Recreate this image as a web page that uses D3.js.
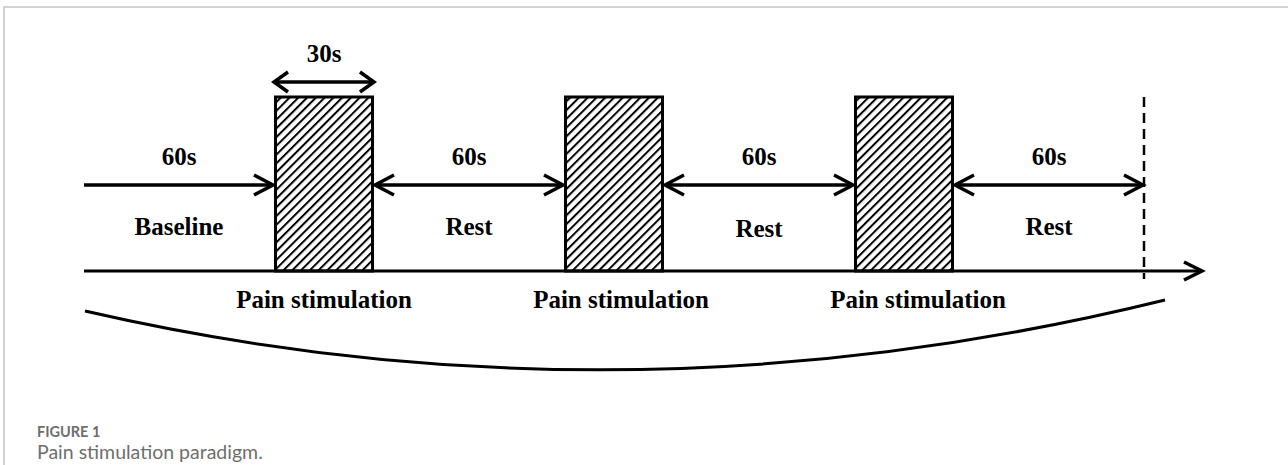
<!DOCTYPE html>
<html>
<head>
<meta charset="utf-8">
<script src="https://cdn.jsdelivr.net/npm/d3@7"></script>
<style>
  html, body { margin: 0; padding: 0; background: #fff; }
  svg { display: block; }
</style>
</head>
<body>
<div id="chart"></div>
<script>
// phases of the paradigm, in order
var phases = ["Baseline", "Pain stimulation", "Rest", "Pain stimulation", "Rest", "Pain stimulation", "Rest"];
var phaseTypes = ["rest", "stim", "rest", "stim", "rest", "stim", "rest"];
var durations = [60, 30, 60, 30, 60, 30, 60];
var durationLabels = ["60s", "30s", "60s", "30s", "60s", "30s", "60s"];
var captionTitle = "FIGURE 1";
var captionText = "Pain stimulation paradigm.";

var width = 1288, height = 465;
var x0 = 84;                      // start of time axis
var restPx = 190, stimPx = 100;   // drawn width of each kind of block
var axisY = 271, boxTop = 97, arrowY = 185;

var svg = d3.select("#chart").append("svg")
    .attr("width", width)
    .attr("height", height);

// hatch pattern for stimulation blocks
svg.append("defs").append("pattern")
    .attr("id", "hatch")
    .attr("patternUnits", "userSpaceOnUse")
    .attr("width", 6.2)
    .attr("height", 6.2)
    .attr("patternTransform", "rotate(45)")
    .append("line")
    .attr("x1", 1).attr("y1", 0)
    .attr("x2", 1).attr("y2", 6.2)
    .attr("stroke", "#000")
    .attr("stroke-width", 2);

// frame (top + left)
svg.append("path")
    .attr("d", "M4," + height + "V7H" + width)
    .attr("fill", "none")
    .attr("stroke", "#c4c4c4")
    .attr("stroke-width", 1.5);

// piecewise time scale: cumulative seconds -> pixels
var tCum = [0], pxCum = [x0];
durations.forEach(function (d, i) {
    tCum.push(tCum[i] + d);
    pxCum.push(pxCum[i] + (phaseTypes[i] === "stim" ? stimPx : restPx));
});
var x = d3.scaleLinear().domain(tCum).range(pxCum);

var segs = phases.map(function (p, i) {
    return { name: p, type: phaseTypes[i], label: durationLabels[i], t0: tCum[i], t1: tCum[i + 1], idx: i };
});
var stims = segs.filter(function (s) { return s.type === "stim"; });
var rests = segs.filter(function (s) { return s.type === "rest"; });
var tEnd = tCum[tCum.length - 1];

function chevron(g, tipX, tipY, dir, len, spread, sw) {
    g.append("path")
        .attr("d", "M" + (tipX - dir * len) + "," + (tipY - spread) + "L" + tipX + "," + tipY + "L" + (tipX - dir * len) + "," + (tipY + spread))
        .attr("fill", "none")
        .attr("stroke", "#000")
        .attr("stroke-width", sw)
        .attr("stroke-linejoin", "miter");
}

var g = svg.append("g");

// stimulation boxes
g.selectAll("rect.stim")
    .data(stims)
    .enter().append("rect")
    .attr("class", "stim")
    .attr("x", function (d) { return x(d.t0) + 1.5; })
    .attr("y", boxTop)
    .attr("width", function (d) { return x(d.t1) - x(d.t0) - 3; })
    .attr("height", axisY - boxTop)
    .attr("fill", "url(#hatch)")
    .attr("stroke", "#000")
    .attr("stroke-width", 3);

// time axis with arrow
g.append("line")
    .attr("x1", x(0)).attr("x2", 1201)
    .attr("y1", axisY).attr("y2", axisY)
    .attr("stroke", "#000").attr("stroke-width", 3);
chevron(g, 1202, axisY, 1, 18, 9, 3.5);

// end marker
g.append("line")
    .attr("x1", x(tEnd)).attr("x2", x(tEnd))
    .attr("y1", boxTop).attr("y2", axisY + 8)
    .attr("stroke", "#000").attr("stroke-width", 2.5)
    .attr("stroke-dasharray", "10,6");

// duration arrows for rest / baseline segments
rests.forEach(function (s) {
    var a = x(s.t0) + (s.idx === 0 ? 0 : 1), b = x(s.t1) - 1;
    g.append("line")
        .attr("x1", a).attr("x2", b)
        .attr("y1", arrowY).attr("y2", arrowY)
        .attr("stroke", "#000").attr("stroke-width", 3.5);
    chevron(g, b, arrowY, 1, 19, 10, 3.5);
    if (s.idx > 0) chevron(g, a, arrowY, -1, 19, 10, 3.5);
});

// 30s arrow over first stimulation block
var s0 = stims[0];
g.append("line")
    .attr("x1", x(s0.t0)).attr("x2", x(s0.t1))
    .attr("y1", 82).attr("y2", 82)
    .attr("stroke", "#000").attr("stroke-width", 3.5);
chevron(g, x(s0.t0), 82, -1, 14, 10, 3.5);
chevron(g, x(s0.t1), 82, 1, 14, 10, 3.5);

var serif = "'Liberation Serif', 'Times New Roman', serif";

g.append("text")
    .attr("x", (x(s0.t0) + x(s0.t1)) / 2)
    .attr("y", 62)
    .attr("text-anchor", "middle")
    .style("font-family", serif).style("font-weight", "bold").style("font-size", "25px")
    .text(s0.label);

g.selectAll("text.dur")
    .data(rests)
    .enter().append("text")
    .attr("class", "dur")
    .attr("x", function (d) { return (x(d.t0) + x(d.t1)) / 2; })
    .attr("y", 165)
    .attr("text-anchor", "middle")
    .style("font-family", serif).style("font-weight", "bold").style("font-size", "25px")
    .text(function (d) { return d.label; });

g.selectAll("text.restname")
    .data(rests)
    .enter().append("text")
    .attr("class", "restname")
    .attr("x", function (d) { return (x(d.t0) + x(d.t1)) / 2; })
    .attr("y", function (d, i) { return i === 2 ? 237 : 235; })
    .attr("text-anchor", "middle")
    .style("font-family", serif).style("font-weight", "bold").style("font-size", "25px")
    .text(function (d) { return d.name; });

g.selectAll("text.stimname")
    .data(stims)
    .enter().append("text")
    .attr("class", "stimname")
    .attr("x", function (d, i) { return (x(d.t0) + x(d.t1)) / 2 + i * 7; })
    .attr("y", 308)
    .attr("text-anchor", "middle")
    .style("font-family", serif).style("font-weight", "bold").style("font-size", "25px")
    .text(function (d) { return d.name; });

// brace-like arc under the whole session
var arc = d3.path();
arc.moveTo(x(0) + 1, 311);
arc.quadraticCurveTo(620, 434, 1165, 300);
g.append("path")
    .attr("d", arc.toString())
    .attr("fill", "none")
    .attr("stroke", "#000")
    .attr("stroke-width", 3);

// caption
svg.append("text")
    .attr("x", 37).attr("y", 437)
    .style("font-family", "Lato, 'Open Sans', sans-serif")
    .style("font-weight", "bold")
    .style("font-size", "14.5px")
    .style("fill", "#6e6e6e")
    .text(captionTitle);

svg.append("text")
    .attr("x", 37).attr("y", 459)
    .style("font-family", "Lato, 'Open Sans', sans-serif")
    .style("font-size", "19.5px")
    .style("fill", "#6e6e6e")
    .text(captionText);
</script>
</body>
</html>
